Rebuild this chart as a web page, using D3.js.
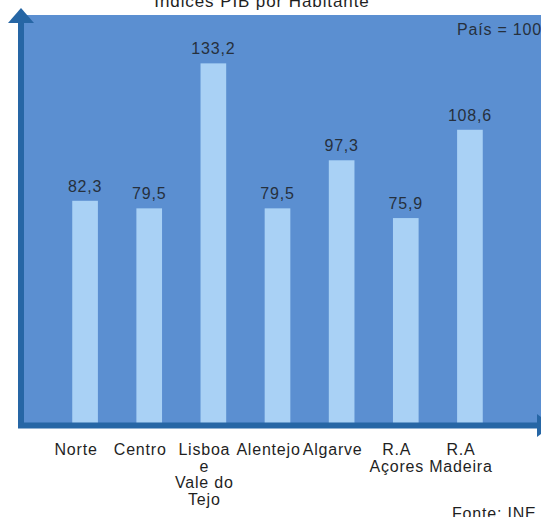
<!DOCTYPE html>
<html>
<head>
<meta charset="utf-8">
<script src="https://cdn.jsdelivr.net/npm/d3@7"></script>
<style>
  body { margin: 0; background: #fff; }
  text { font-family: "Liberation Sans", Arial, sans-serif; }
</style>
</head>
<body>
<div id="chart"></div>
<script>
var categories = ['Norte', 'Centro', 'Lisboa\ne\nVale do\nTejo', 'Alentejo', 'Algarve', 'R.A\nAçores', 'R.A\nMadeira']
var values = [82.3, 79.5, 133.2, 79.5, 97.3, 75.9, 108.6]
var title = 'Índices PIB por Habitante'
var note = 'País = 100'
var source = 'Fonte: INE'

var width = 541, height = 517
var pt = d3.formatLocale({decimal: ',', thousands: '.', grouping: [3], currency: ['', '€']})
var fmt = pt.format('.1f')

var svg = d3.select('#chart').append('svg')
  .attr('width', width)
  .attr('height', height)

var x = d3.scaleBand()
  .domain(categories)
  .range([53, 502])
  .paddingInner(0.6)
  .paddingOuter(0.3)

var y = d3.scaleLinear()
  .domain([0, 150])
  .range([423, 18])

// plot background
svg.append('rect')
  .attr('x', 21).attr('y', 15)
  .attr('width', width - 21).attr('height', 413)
  .attr('fill', '#5b8fd1')

svg.selectAll('rect.bar')
  .data(values)
  .join('rect')
  .attr('class', 'bar')
  .attr('x', (d, i) => x(categories[i]))
  .attr('y', d => y(d))
  .attr('width', x.bandwidth())
  .attr('height', d => y(0) - y(d))
  .attr('fill', '#a9d1f5')

svg.selectAll('text.val')
  .data(values)
  .join('text')
  .attr('class', 'val')
  .attr('x', (d, i) => x(categories[i]) + x.bandwidth() / 2)
  .attr('y', d => y(d) - 9)
  .attr('text-anchor', 'middle')
  .attr('font-size', 16)
  .attr('letter-spacing', 0.8)
  .attr('fill', '#26303d')
  .text(d => fmt(d))

// axes with arrows
var axisColor = '#2666a5'
svg.append('line')
  .attr('x1', 21).attr('x2', 21)
  .attr('y1', 20).attr('y2', 428)
  .attr('stroke', axisColor).attr('stroke-width', 6)
svg.append('path')
  .attr('d', 'M21,8L8,23L34,23Z')
  .attr('fill', axisColor)
svg.append('line')
  .attr('x1', 18).attr('x2', 541)
  .attr('y1', 425.5).attr('y2', 425.5)
  .attr('stroke', axisColor).attr('stroke-width', 6)
svg.append('path')
  .attr('d', 'M537,414L552,425.5L537,437Z')
  .attr('fill', axisColor)

// category labels
var lab = svg.selectAll('text.cat')
  .data(categories)
  .join('text')
  .attr('class', 'cat')
  .attr('text-anchor', 'middle')
  .attr('font-size', 16)
  .attr('letter-spacing', 0.8)
  .attr('fill', '#1f1f1f')

lab.selectAll('tspan')
  .data(d => d.split('\n').map(s => ({s: s, c: d})))
  .join('tspan')
  .attr('x', d => x(d.c) + x.bandwidth() / 2 - 9)
  .attr('y', (d, i) => 455 + i * 16.5)
  .text(d => d.s)

svg.append('text')
  .attr('x', 262).attr('y', 7)
  .attr('text-anchor', 'middle')
  .attr('font-size', 17)
  .attr('letter-spacing', 0.9)
  .attr('fill', '#1f1f1f')
  .text(title)

svg.append('text')
  .attr('x', 457).attr('y', 35)
  .attr('font-size', 16)
  .attr('letter-spacing', 0.8)
  .attr('fill', '#26303d')
  .text(note)

svg.append('text')
  .attr('x', 452).attr('y', 519)
  .attr('font-size', 16)
  .attr('letter-spacing', 0.8)
  .attr('fill', '#1f1f1f')
  .text(source)
</script>
</body>
</html>
